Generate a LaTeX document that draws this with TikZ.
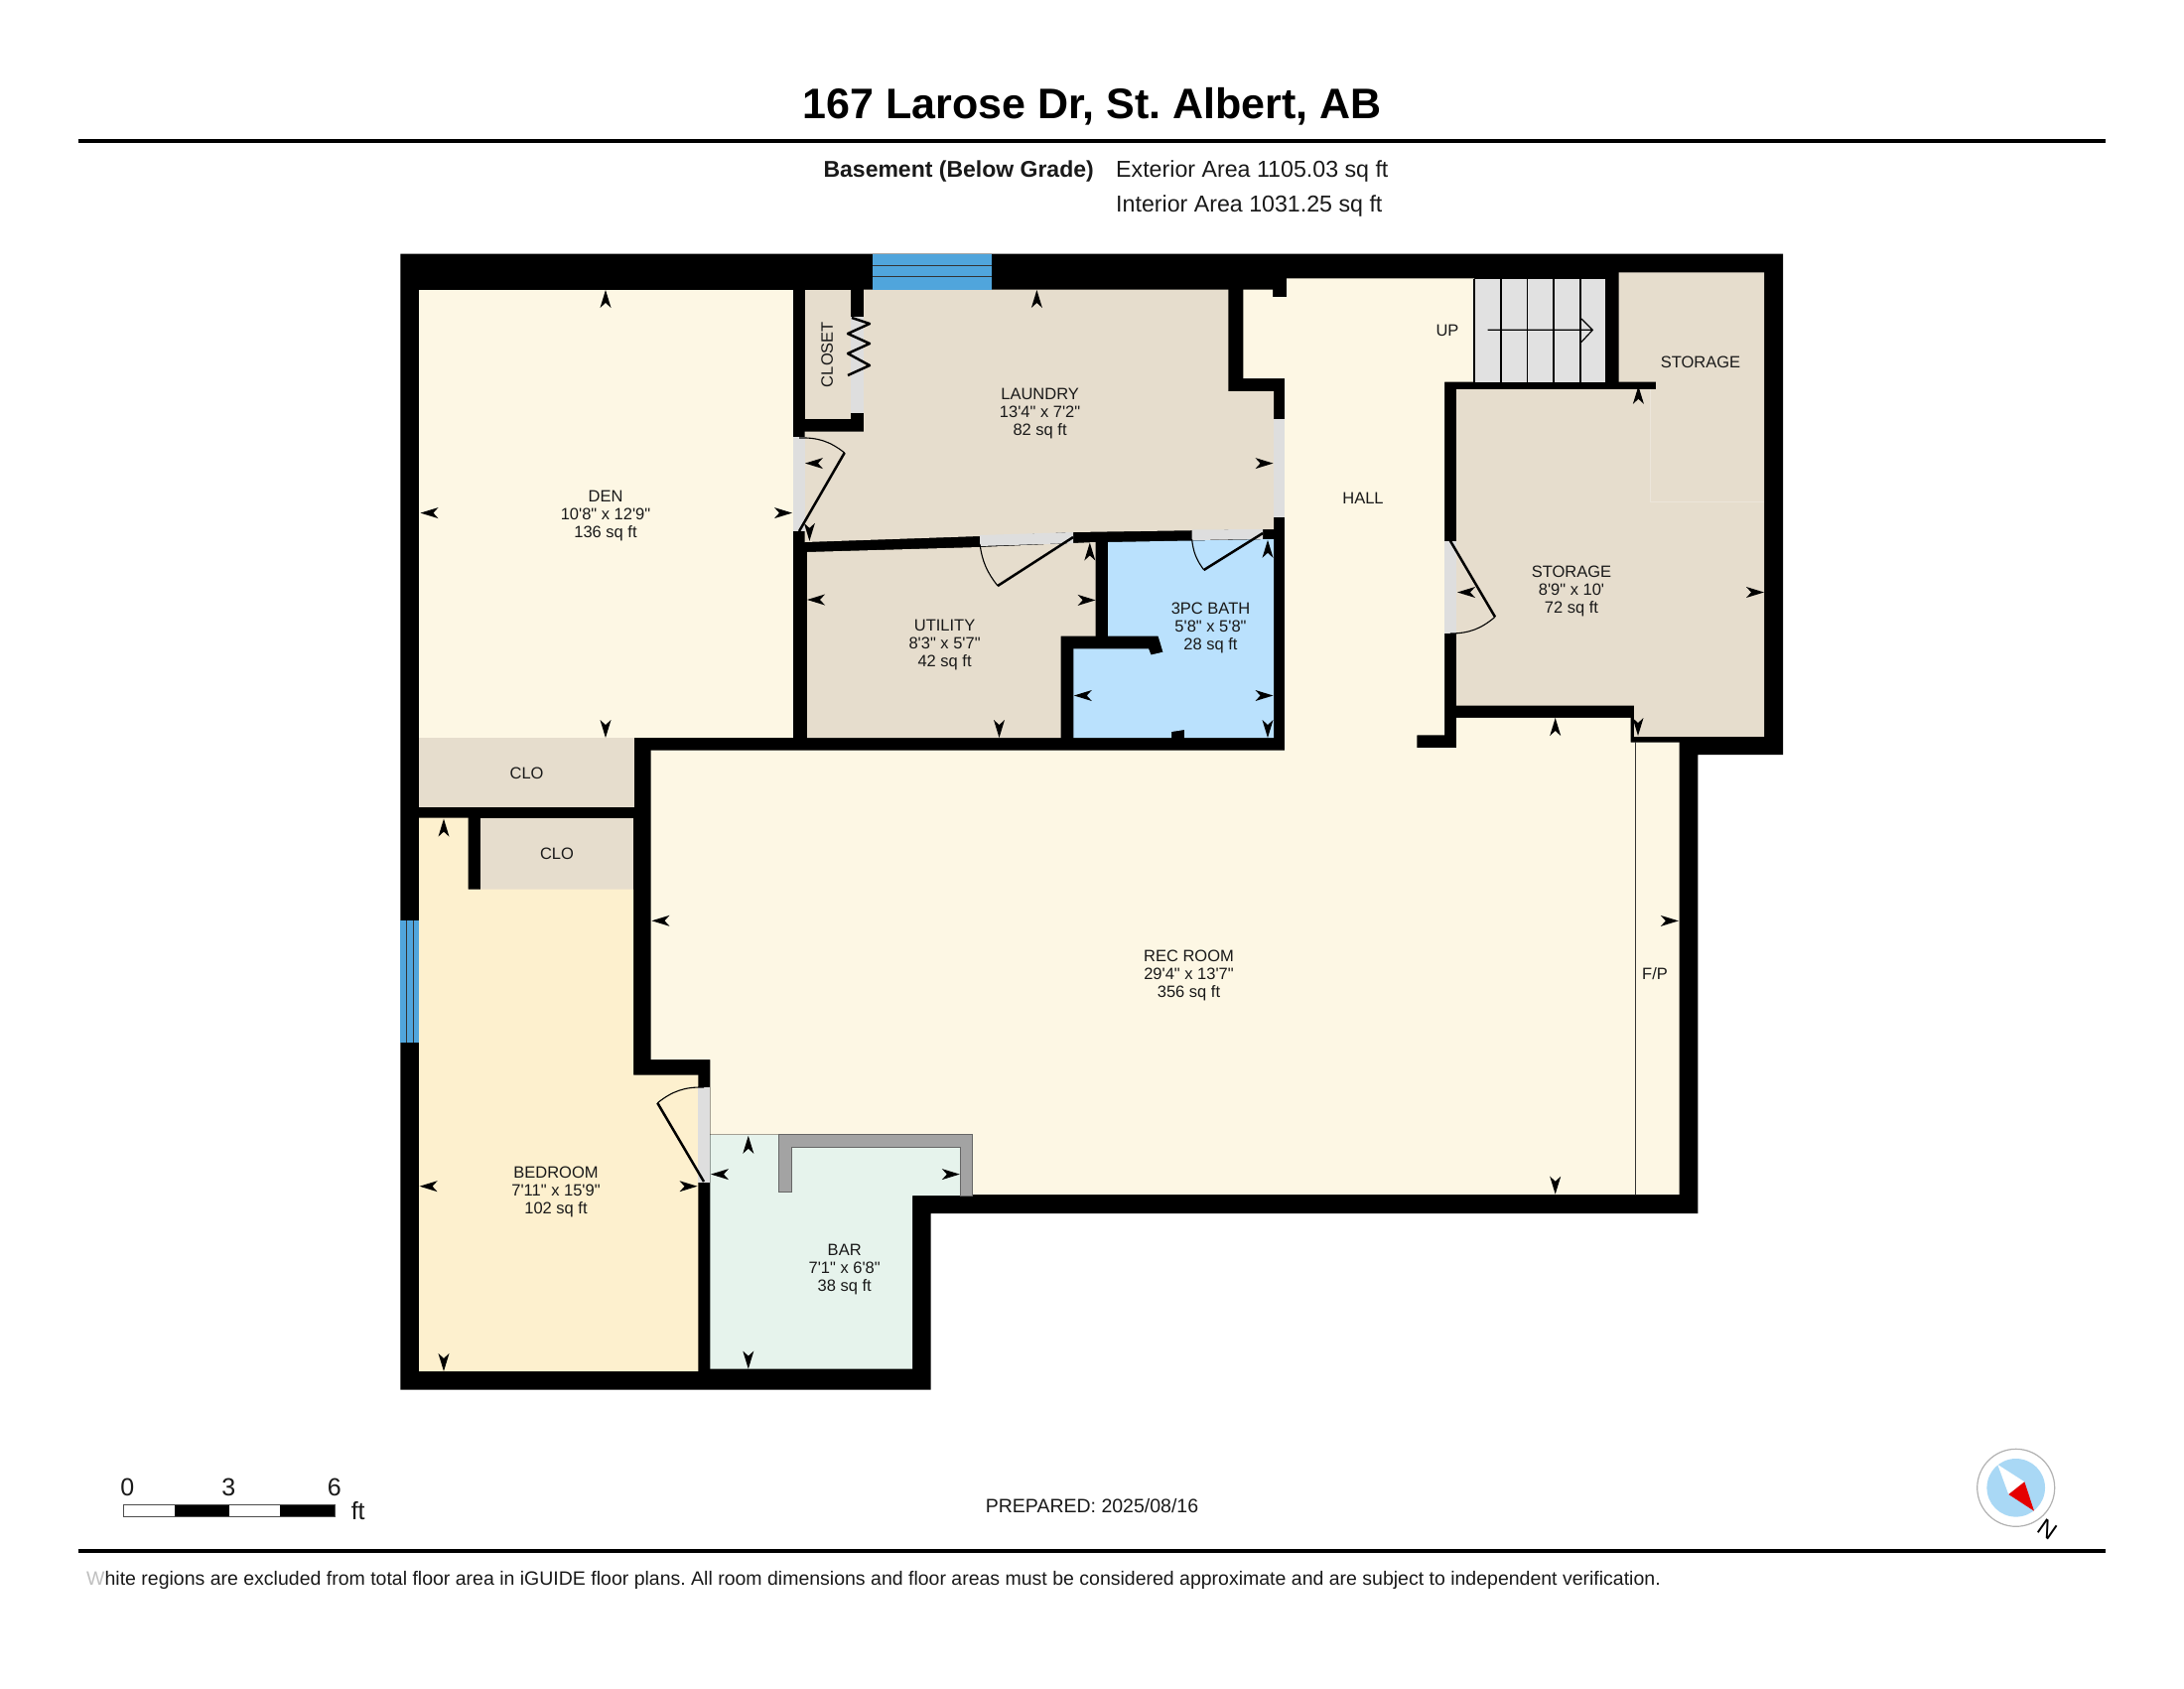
\documentclass[tikz,border=0pt]{standalone}
\usepackage{fontspec}
\setmainfont{Liberation Sans}[Ligatures=TeXOff]
\frenchspacing
\definecolor{roomcream}{HTML}{FDF7E4}
\definecolor{roomtan}{HTML}{E6DDCD}
\definecolor{roombed}{HTML}{FDF0CE}
\definecolor{roombath}{HTML}{BAE1FD}
\definecolor{roombar}{HTML}{E6F3EC}
\definecolor{glass}{HTML}{50A5DC}
\definecolor{doorgray}{HTML}{DEDEDE}
\definecolor{compassblue}{HTML}{A9D8F5}
\tikzset{
  roomlabel/.style={font=\fontsize{16.5}{18}\selectfont, align=center, inner sep=0pt, text=black!90},
  headtext/.style={font=\fontsize{23.2}{26}\selectfont, inner sep=0pt, text=black!90},
  smalltext/.style={font=\fontsize{19.5}{22}\selectfont, inner sep=0pt, text=black!90},
  scaletext/.style={font=\fontsize{25}{27}\selectfont, inner sep=0pt, text=black!90},
  leaf/.style={draw=black, line width=2.5pt},
  swing/.style={draw=black, line width=1.1pt},
  pics/dimtip/.style={code={\fill[black] (0,0) -- (-18,-5.5) -- (-13,0) -- (-18,5.5) -- cycle;}},
}
\begin{document}
\begin{tikzpicture}[x=1pt, y=-1pt]
  \useasboundingbox[fill=white] (0,0) rectangle (2200,1700);

  % header
  \node[font=\fontsize{43}{45}\selectfont\bfseries, inner sep=0pt] (title) at (1100,107) {167 Larose Dr, St. Albert, AB};
  \draw[line width=4pt] (78.6,141.7) -- (2121,141.7);
  \node[font=\fontsize{23}{25}\selectfont\bfseries, anchor=east, inner sep=0pt, text=black!90] (level) at (1102,172.5) {Basement (Below Grade)};
  \node[headtext, anchor=west] (extarea) at (1124,172.5) {Exterior Area 1105.03 sq ft};
  \node[headtext, anchor=west] (intarea) at (1124,207) {Interior Area 1031.25 sq ft};

  % footprint, the walls are what the rooms leave uncovered
  \fill[black] (403.4,255.5) -- (1796,255.5) -- (1796,760) -- (1710.4,760) -- (1710.4,1222)
    -- (937.7,1222) -- (937.7,1399.6) -- (403.4,1399.6) -- cycle;

  % rooms
  \fill[roomcream] (422,291.7) rectangle (798.5,743.4);
  \fill[roomtan] (810.5,291.7) rectangle (857.4,421.5);
  \fill[roomtan] (870,291.7) -- (1237.4,291.7) -- (1237.4,394) -- (1283,394) -- (1283,533)
    -- (1081,536) -- (987,540) -- (810.5,546) -- (810.5,434.6) -- (870,434.6) -- cycle;
  \fill[roomtan] (813,556) -- (987,551) -- (1103.6,546) -- (1103.6,640.5) -- (1068.7,640.5)
    -- (1068.7,743) -- (813,743) -- cycle;
  \fill[roombath] (1116.2,546) -- (1283,543) -- (1283,743) -- (1193,743) -- (1193,735) -- (1180,737) -- (1180,743)
    -- (1081.3,743) -- (1081.3,653.3) -- (1157,653.3) -- (1159.4,659.5) -- (1171.5,656.7) -- (1166.6,640.5) -- (1116.2,640.5) -- cycle;
  \fill[roomtan] (1630.5,274.4) -- (1777,274.4) -- (1777,741.8) -- (1646,741.8) -- (1646,710.5)
    -- (1467,710.5) -- (1467,392) -- (1668,392) -- (1668,384.6) -- (1630.5,384.6) -- cycle;
  \draw[white!25!roomtan, line width=0.6pt] (1662.5,392) -- (1662.5,505) -- (1777,505);
  \fill[roomcream] (1252.4,291.7) -- (1282,291.7) -- (1282,299) -- (1296,299) -- (1296,280.3) -- (1485,280.3)
    -- (1485,384.6) -- (1455,384.6) -- (1455,740.4) -- (1427.4,740.4) -- (1427.4,753.2) -- (1467,753.2)
    -- (1467,722.8) -- (1642.6,722.8) -- (1642.6,747.5) -- (1691.7,747.5) -- (1691.7,1203) -- (979.7,1203)
    -- (979.7,1142.5) -- (715.4,1142.5) -- (715.4,1067) -- (655.6,1067) -- (655.6,755.7) -- (1294,755.7)
    -- (1294,381) -- (1252.4,381) -- cycle;
  \fill[roomtan] (422,743.4) rectangle (639,813);
  \fill[roomtan] (484,823.7) rectangle (638,895.6);
  \fill[roombed] (422,823.7) -- (471.7,823.7) -- (471.7,895.6) -- (638,895.6) -- (638,1082.6)
    -- (703.4,1082.6) -- (703.4,1381) -- (422,1381) -- cycle;
  \fill[roombar] (715.4,1143) -- (979.7,1143) -- (967.2,1204) -- (919,1204) -- (919,1378.6) -- (715.4,1378.6) -- cycle;
  \fill[black!36, draw=black!60, line width=0.5pt] (784.6,1142.5) -- (979.7,1142.5) -- (979.7,1204) -- (967.2,1204)
    -- (967.2,1155) -- (797.6,1155) -- (797.6,1200.5) -- (784.6,1200.5) -- cycle;
  \draw[black!80, line width=1.2pt] (1647.5,747) -- (1647.5,1203);

  % windows
  \fill[glass] (879,255.5) rectangle (999,291.7);
  \draw[black!80, line width=1pt] (879,267) -- (999,267) (879,278.6) -- (999,278.6);
  \fill[glass] (403.4,927.3) rectangle (422,1050);
  \draw[black!80, line width=1pt] (409.6,927.3) -- (409.6,1050) (416,927.3) -- (416,1050);

  % stairs
  \fill[doorgray!90!white] (1485,281) rectangle (1617,384.6);
  \foreach \sx in {1485,1512,1538.4,1565,1592}
    \draw[line width=1.3pt] (\sx,281) -- (\sx,384.6);
  \draw[line width=1.2pt] (1498.6,332.3) -- (1604.3,332.3) (1593,321) -- (1604.3,332.3) -- (1593,344.4);

  % door openings
  \fill[doorgray] (798.5,439.8) rectangle (810.5,535);
  \fill[doorgray] (857.4,319) rectangle (870,415.6);
  \fill[doorgray] (1283,421.5) rectangle (1294,521.4);
  \fill[doorgray] (1455,544.5) rectangle (1467,638);
  \fill[doorgray] (703.4,1094.7) rectangle (715.4,1190.7);
  \fill[doorgray] (987,539) -- (1081,536) -- (1081,547) -- (987,550) -- cycle;
  \fill[doorgray] (1200.6,533.5) -- (1272,533) -- (1272,543) -- (1200.6,544) -- cycle;

  % door leaves
  \draw[leaf] (805,535) -- (850.7,456);
  \draw[swing] (805,441) to[bend left=20] (850.7,456);
  \draw[leaf] (1081,541) -- (1005,590);
  \draw[swing] (987,548) to[bend right=15] (1005,590);
  \draw[leaf] (1272,537) -- (1212.7,574);
  \draw[swing] (1200.6,543) to[bend right=15] (1212.7,574);
  \draw[leaf] (1460.8,544.5) -- (1506,621.3);
  \draw[swing] (1460.8,638) to[bend right=20] (1506,621.3);
  \draw[leaf] (709,1190) -- (662.3,1110.8);
  \draw[swing] (709,1095) to[bend right=20] (662.3,1110.8);
  \draw[line width=2.5pt, line join=round] (858,320) -- (876,326) -- (854,336) -- (876,346)
    -- (854,356) -- (876,368) -- (854,378);

  % dimension marks
  \foreach \mx/\my/\mr in {610/292/90, 610/743/270, 423.5/516.6/180, 798/516.6/0,
      1044.4/292/90, 811/466.6/180, 815.4/544.8/270, 1282.5/466.6/0,
      813/604/180, 1006.5/743/270, 1097.8/546.5/90, 1103.6/604.4/0,
      1277/543.8/90, 1081.8/700.5/180, 1282.5/700.5/0, 1277/743/270,
      1650.4/388.8/90, 1468/596.5/180, 1777/596.5/0, 1650/741/270,
      1566.7/723/90, 1566.7/1202.7/270, 1690.8/927.4/0, 656.5/927.3/180,
      447/824.6/90, 447/1381/270, 422.6/1194.7/180, 702.5/1194.7/0,
      753.8/1143.8/90, 753.8/1378.6/270, 716/1182.6/180, 966.8/1182.6/0}
    \pic[rotate=\mr] at (\mx,\my) {dimtip};

  % room labels
  \node[roomlabel] (den) at (610,519.5) {DEN\\10'8" x 12'9"\\136 sq ft};
  \node[roomlabel] (laundry) at (1047.6,416.5) {LAUNDRY\\13'4" x 7'2"\\82 sq ft};
  \node[roomlabel] (utility) at (951.6,650) {UTILITY\\8'3" x 5'7"\\42 sq ft};
  \node[roomlabel] (bath) at (1219.5,632.5) {3PC BATH\\5'8" x 5'8"\\28 sq ft};
  \node[roomlabel] (storage) at (1583,595.5) {STORAGE\\8'9" x 10'\\72 sq ft};
  \node[roomlabel] (recroom) at (1197.5,982.5) {REC ROOM\\29'4" x 13'7"\\356 sq ft};
  \node[roomlabel] (bedroom) at (560,1200.5) {BEDROOM\\7'11" x 15'9"\\102 sq ft};
  \node[roomlabel] (bar) at (850.7,1278.5) {BAR\\7'1" x 6'8"\\38 sq ft};
  \node[roomlabel, rotate=90] (closet) at (833.3,357) {CLOSET};
  \node[roomlabel] (storagetop) at (1713,365) {STORAGE};
  \node[roomlabel] (hall) at (1373,501.5) {HALL};
  \node[roomlabel] (up) at (1458,333) {UP};
  \node[roomlabel] (fp) at (1667,981) {F/P};
  \node[roomlabel] (clotop) at (530.6,779) {CLO};
  \node[roomlabel] (clolow) at (561,860) {CLO};

  % scale bar
  \filldraw[fill=white, draw=black!70, line width=1pt] (124.3,1515.7) rectangle (337.3,1527.3);
  \fill[black] (176,1515.7) rectangle (231,1527.3);
  \fill[black] (282,1515.7) rectangle (337.3,1527.3);
  \node[scaletext] (zero) at (128.3,1498) {0};
  \node[scaletext] (three) at (230.3,1498) {3};
  \node[scaletext] (six) at (336.7,1498) {6};
  \node[scaletext] (feet) at (360.7,1521.7) {ft};

  \node[smalltext] (prepared) at (1100,1517) {PREPARED: 2025/08/16};

  % compass
  \draw[black!30, fill=white, line width=1.2pt] (2030.7,1498.3) circle (39);
  \fill[compassblue] (2030.7,1498.3) circle (29.3);
  \fill[white] (2012.3,1475) -- (2039.3,1492.3) -- (2023.3,1505) -- cycle;
  \fill[red!90!black] (2039.3,1492.3) -- (2023.3,1505) -- (2049,1521.7) -- cycle;
  \node[font=\fontsize{24}{26}\selectfont, inner sep=0pt, rotate=145] (north) at (2062.3,1540) {N};

  % footer
  \draw[line width=4pt] (78.6,1561.6) -- (2121,1561.6);
  \node[smalltext, anchor=west] (disclaimer) at (87,1591) {{\color{black!25}W}hite regions are excluded from total floor area in iGUIDE floor plans. All room dimensions and floor areas must be considered approximate and are subject to independent verification.};
\end{tikzpicture}
\end{document}
